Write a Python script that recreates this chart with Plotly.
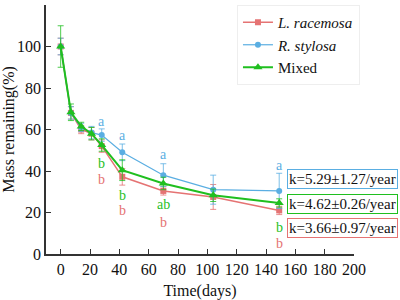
import plotly.graph_objects as go

days = [0, 7, 14, 21, 28, 42, 70, 104, 149]
lr_mean = [100, 68, 60, 58, 52, 37.2, 30.4, 27.5, 21]
lr_err = [4, 3, 2, 3, 3, 4, 2, 6, 2]
rs_mean = [100, 68, 61, 58.5, 57.3, 49, 38, 31, 30.4]
rs_err = [4, 3, 2, 3, 3, 4, 5.5, 7, 8.5]
mx_mean = [100, 68.3, 61.5, 58, 52.5, 40.4, 34, 28.3, 24.6]
mx_err = [10, 4, 2, 3, 3, 5, 3, 3, 2]

names = ["<i>L. racemosa</i>", "<i>R. stylosa</i>", "Mixed"]
colors = ["#e57373", "#5aaee2", "#1fbf1f"]
symbols = ["square", "circle", "triangle-up"]
msizes = [6, 6, 8]
lwidths = [1.5, 1.2, 2]

# significance letters
letter_days = [28, 28, 28, 42, 42, 42, 70, 70, 70, 149, 149, 149]
letter_y = [64, 43.8, 36, 57, 28.3, 21, 48, 24, 15, 42.8, 12.7, 5]
letter_txt = ["a", "b", "b", "a", "b", "b", "a", "ab", "b", "a", "b", "b"]
letter_series = [1, 2, 0, 1, 2, 0, 1, 2, 0, 1, 2, 0]

k_labels = ["k=5.29±1.27/year", "k=4.62±0.26/year", "k=3.66±0.97/year"]
k_y = [36.1, 24.2, 12.4]
k_series = [1, 2, 0]

FONT = "Times New Roman, Liberation Serif, DejaVu Serif, serif"

fig = go.Figure()
series = [(lr_mean, lr_err), (rs_mean, rs_err), (mx_mean, mx_err)]
for i, (m, e) in enumerate(series):
    fig.add_trace(go.Scatter(
        x=days, y=m, name=names[i], mode="lines+markers",
        line=dict(color=colors[i], width=lwidths[i]),
        marker=dict(symbol=symbols[i], size=msizes[i], color=colors[i]),
        error_y=dict(type="data", array=e, visible=True, color=colors[i],
                     thickness=0.8, width=3),
    ))

for d, y, t, s in zip(letter_days, letter_y, letter_txt, letter_series):
    fig.add_annotation(x=d, y=y, text=t, showarrow=False, xref="x", yref="y",
                       borderpad=0,
                       font=dict(family=FONT, size=14, color=colors[s]))

for lab, y, s in zip(k_labels, k_y, k_series):
    fig.add_annotation(x=154, y=y, text=lab, showarrow=False, xref="x", yref="y",
                       xanchor="left", yanchor="middle",
                       font=dict(family=FONT, size=15, color="#111"),
                       bordercolor=colors[s], borderwidth=1, borderpad=1,
                       bgcolor="white")

fig.update_layout(
    width=400, height=300,
    margin=dict(l=46, r=46, t=5, b=46),
    plot_bgcolor="white", paper_bgcolor="white",
    font=dict(family=FONT, size=15, color="#111"),
    showlegend=True,
    legend=dict(x=0.62, y=1.0, xanchor="left", yanchor="top",
                bgcolor="rgba(255,255,255,0)", bordercolor="#eeeeee", borderwidth=1,
                font=dict(family=FONT, size=15, color="#111"),
                tracegroupgap=0, itemwidth=30),
    xaxis=dict(range=[-10, 200], tickvals=[0, 20, 40, 60, 80, 100, 120, 140, 160, 180, 200],
               ticks="inside", ticklen=5, tickcolor="#333", showgrid=False,
               showline=True, linecolor="#333", linewidth=1.5, zeroline=False,
               automargin=False,
               title=dict(text="Time(days)", standoff=8, font=dict(family=FONT, size=16)),
               tickfont=dict(family=FONT, size=16)),
    yaxis=dict(range=[0, 120], tickvals=[0, 20, 40, 60, 80, 100, 120],
               ticks="inside", ticklen=5, tickcolor="#333", showgrid=False,
               showline=True, linecolor="#333", linewidth=1.5, zeroline=False,
               automargin=False,
               title=dict(text="Mass remaining(%)", standoff=4, font=dict(family=FONT, size=16)),
               tickfont=dict(family=FONT, size=16)),
)

fig.write_html("out.html", config={"displayModeBar": False},
               post_script="document.body.style.margin='0';document.body.style.padding='0';")
